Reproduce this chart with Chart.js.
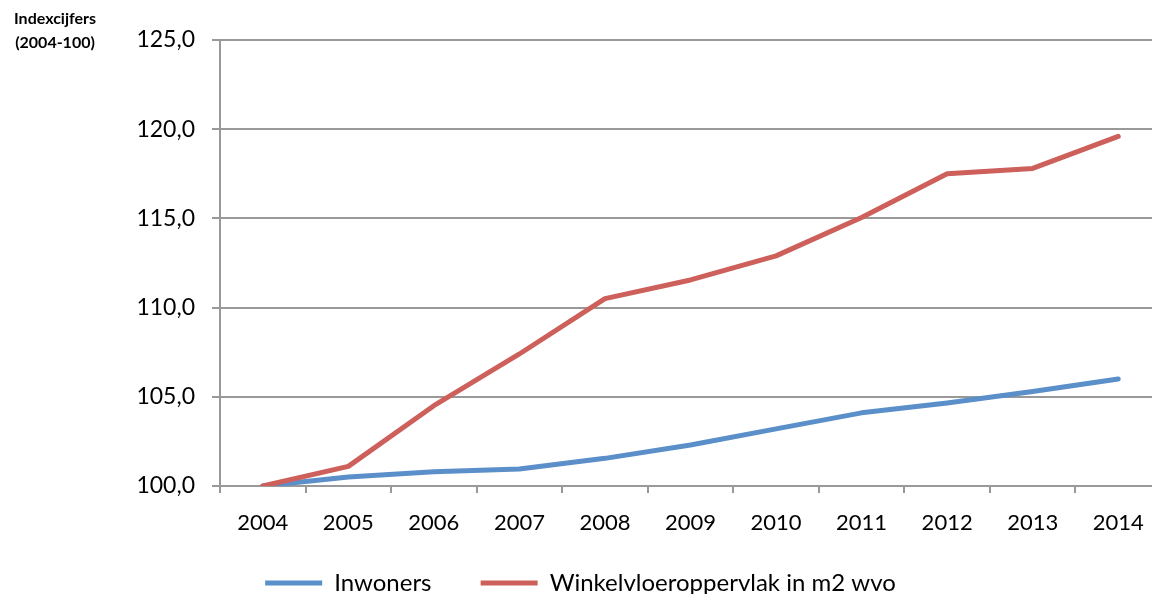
<!DOCTYPE html>
<html>
<head>
<meta charset="utf-8">
<script src="https://cdn.jsdelivr.net/npm/chart.js@4"></script>
<style>
  body { margin: 0; background: #fff; overflow: hidden; }
</style>
</head>
<body>
<canvas id="myChart" width="1162" height="606"></canvas>
<script>
const years = ['2004', '2005', '2006', '2007', '2008', '2009', '2010', '2011', '2012', '2013', '2014'];
const inwoners = [100.0, 100.5, 100.8, 100.95, 101.55, 102.3, 103.2, 104.1, 104.65, 105.3, 106.0];
const winkelvloer = [100.0, 101.1, 104.5, 107.4, 110.5, 111.55, 112.9, 115.05, 117.5, 117.8, 119.6];
const yTicks = [100, 105, 110, 115, 120, 125];

const font = 'Lato';

// titel links boven
const axisNote = {
    id: 'axisNote',
    afterDraw(chart) {
        const c = chart.ctx;
        c.save();
        c.font = 'bold 16px ' + font;
        c.fillStyle = '#000';
        c.textAlign = 'center';
        c.textBaseline = 'middle';
        c.fillText('Indexcijfers', 55, 19);
        c.fillText('(2004-100)', 55, 43);
        c.restore();
    }
};

const ctx = document.getElementById('myChart');
new Chart(ctx, {
    type: 'line',
    data: {
        labels: years,
        datasets: [{
            label: 'Inwoners',
            data: inwoners,
            borderColor: '#5B8FC9',
            backgroundColor: '#5B8FC9',
            borderWidth: 5,
            order: 1
        }, {
            label: 'Winkelvloeroppervlak in m2 wvo',
            data: winkelvloer,
            borderColor: '#CD605B',
            backgroundColor: '#CD605B',
            borderWidth: 5,
            order: 0
        }]
    },
    options: {
        responsive: false,
        animation: false,
        layout: { padding: { top: 40, left: 0, right: 1, bottom: 1 } },
        elements: {
            line: { tension: 0, borderCapStyle: 'round', borderJoinStyle: 'round' },
            point: { radius: 0 }
        },
        plugins: {
            tooltip: { enabled: false },
            legend: {
                position: 'bottom',
                labels: {
                    color: '#000',
                    font: { family: font, size: 24 },
                    usePointStyle: true,
                    pointStyle: 'line',
                    pointStyleWidth: 57,
                    padding: 0,
                    sort: (a, b) => a.datasetIndex - b.datasetIndex,
                    // ruimte tussen de twee items
                    generateLabels: chart => Chart.defaults.plugins.legend.labels.generateLabels(chart)
                        .map(l => l.datasetIndex === 0 ? { ...l, text: l.text + '        ' } : l)
                }
            }
        },
        scales: {
            x: {
                offset: true,
                grid: { drawOnChartArea: false, offset: true, tickLength: 7, color: '#999', lineWidth: 2 },
                border: { color: '#999', width: 2 },
                ticks: { color: '#000', font: { family: font, size: 22 }, padding: 17, maxRotation: 0 },
                afterFit: s => { s.height = 85; }
            },
            y: {
                min: 100,
                max: 125,
                afterBuildTicks: s => { s.ticks = yTicks.map(v => ({ value: v })); },
                grid: { color: '#999', lineWidth: 2, tickLength: 8 },
                border: { color: '#999', width: 2 },
                ticks: {
                    color: '#000',
                    font: { family: font, size: 23 },
                    padding: 17,
                    callback: v => v.toFixed(1).replace('.', ',')
                },
                afterFit: s => { s.width = 220; }
            }
        }
    },
    plugins: [axisNote]
});
</script>
</body>
</html>
